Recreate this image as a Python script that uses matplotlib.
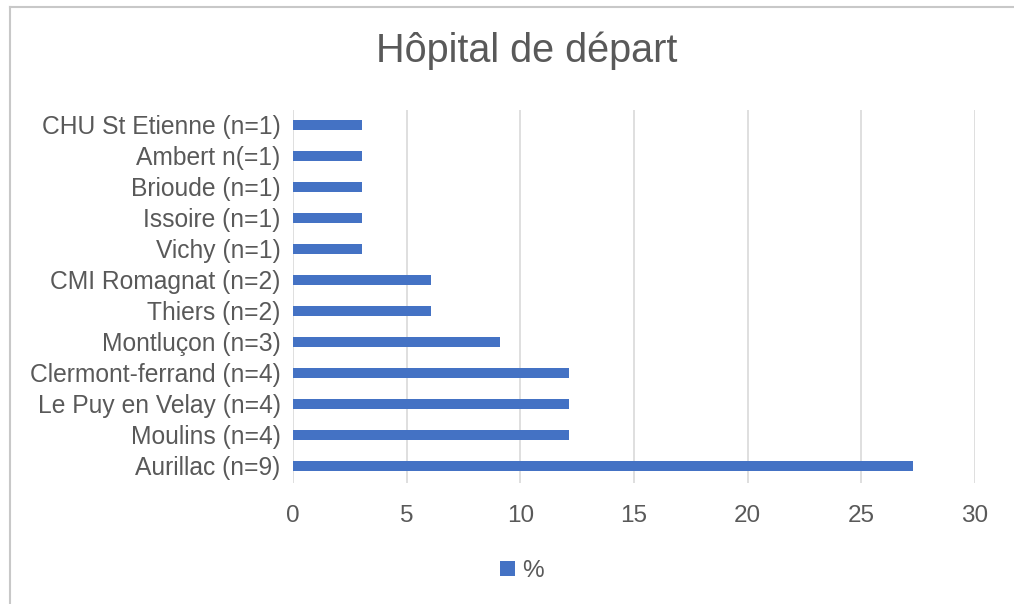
import matplotlib
matplotlib.use("Agg")
import matplotlib.pyplot as plt
from matplotlib.lines import Line2D

categories = ["Aurillac (n=9)", "Moulins (n=4)", "Le Puy en Velay (n=4)",
              "Clermont-ferrand (n=4)", "Montluçon (n=3)", "Thiers (n=2)",
              "CMI Romagnat (n=2)", "Vichy (n=1)", "Issoire (n=1)",
              "Brioude (n=1)", "Ambert n(=1)", "CHU St Etienne (n=1)"]
values = [27.27, 12.12, 12.12, 12.12, 9.09, 6.06, 6.06, 3.03, 3.03, 3.03, 3.03, 3.03]
xticks = [0, 5, 10, 15, 20, 25, 30]
title = "Hôpital de départ"
series_name = "%"

plt.rcParams['font.family'] = ['Liberation Sans', 'DejaVu Sans']
text_color = "#595959"
bar_color = "#4472C4"

fig = plt.figure(figsize=(10.14, 6.04), dpi=100)
ax = fig.add_axes([293/1014, 1-483/604, (975-293)/1014, (483-109.5)/604])

ax.barh(range(len(categories)), values, height=0.33, color=bar_color, zorder=3,
        label=series_name)
ax.set_yticks(range(len(categories)))
ax.set_yticklabels(categories)
ax.set_ylim(-0.55, len(categories) - 0.5)
ax.set_xlim(0, 30)
ax.set_xticks(xticks)
ax.set_xticklabels([str(t) for t in xticks])
ax.grid(axis='x', color="#d9d9d9", linewidth=1.2, zorder=0)
ax.grid(axis='y', visible=False)
for s in ax.spines.values():
    s.set_visible(False)
ax.tick_params(axis='y', length=0, pad=9, labelsize=17.7, labelcolor=text_color)
ax.tick_params(axis='x', length=0, pad=16, labelsize=17.5, labelcolor=text_color)

fig.text(527/1014, 1-51/604, title, ha='center', va='center', fontsize=28.5,
         color=text_color)

leg = fig.legend(loc='center', bbox_to_anchor=(522/1014, 1-571/604), frameon=False,
                 fontsize=17.5, handlelength=0.6, handleheight=0.6, handletextpad=0.3,
                 labelcolor=text_color)

# chart frame (top and left edges)
fig.add_artist(Line2D([10/1014, 1], [1-7/604, 1-7/604], transform=fig.transFigure,
                      color="#c8c8c8", linewidth=1.5))
fig.add_artist(Line2D([10/1014, 10/1014], [0, 1-7/604], transform=fig.transFigure,
                      color="#c8c8c8", linewidth=1.5))

fig.savefig("out.png", dpi=100)
